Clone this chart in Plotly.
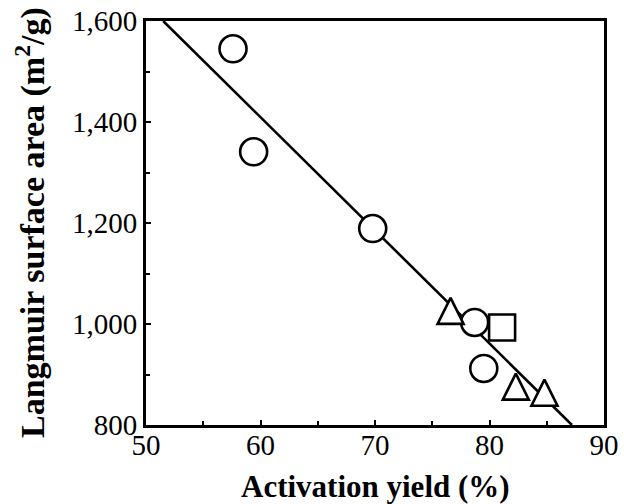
import plotly.graph_objects as go

# Activation yield (%) vs Langmuir surface area (m2/g), grouped by marker shape
circle_x = [57.6, 59.4, 69.8, 78.7, 79.5]
circle_y = [1545, 1341, 1189, 1003, 912]

triangle_x = [76.6, 82.3, 84.8]
triangle_y = [1026, 876, 864]

square_x = [81.1]
square_y = [993]

# Linear fit drawn across the frame
fit_x = [51.5, 87.2]
fit_y = [1600, 800]

x_ticks = [50, 60, 70, 80, 90]
y_ticks = [800, 1000, 1200, 1400, 1600]
y_tick_text = ["800", "1,000", "1,200", "1,400", "1,600"]

x_title = "Activation yield (%)"
y_title = "Langmuir surface area (m<sup>2</sup>/g)"

serif = "Liberation Serif, Times New Roman, serif"

fig = go.Figure()

fig.add_trace(go.Scatter(
    x=fit_x, y=fit_y, mode="lines",
    line=dict(color="black", width=2.6),
    showlegend=False, hoverinfo="skip",
))

marker_line = dict(color="black", width=2.6)

fig.add_trace(go.Scatter(
    x=circle_x, y=circle_y, mode="markers",
    marker=dict(symbol="circle", size=27, color="white", line=marker_line),
    showlegend=False,
))

fig.add_trace(go.Scatter(
    x=square_x, y=square_y, mode="markers",
    marker=dict(symbol="square", size=26, color="white", line=marker_line),
    showlegend=False,
))

# Upright triangle as tall as it is wide, centred on its point
# (a flipped arrow head pushed back by half its height)
fig.add_trace(go.Scatter(
    x=triangle_x, y=triangle_y, mode="markers",
    marker=dict(symbol="arrow-down", angle=180, size=26, standoff=13,
                color="white", line=marker_line),
    showlegend=False,
))

axis_common = dict(
    showgrid=False, zeroline=False, automargin=False,
    showline=True, linecolor="black", linewidth=2.8, mirror=True,
    ticks="inside", ticklen=5, tickwidth=2.2, tickcolor="black",
    tickfont=dict(family=serif, size=29, color="black"),
)

fig.update_xaxes(
    range=[50, 90], tickvals=x_ticks, ticklabelstandoff=-8,
    minor=dict(ticks="inside", ticklen=4, tickwidth=1.8, tickcolor="black", dtick=5),
    **axis_common,
)

fig.update_yaxes(
    range=[800, 1600], tickvals=y_ticks, ticktext=y_tick_text,
    minor=dict(ticks="inside", ticklen=4, tickwidth=1.8, tickcolor="black", dtick=100),
    **axis_common,
)

title_font = dict(family=serif, color="black", weight="bold")

fig.add_annotation(
    text=x_title, xref="paper", yref="paper", x=0.5, y=0,
    xanchor="center", yanchor="middle", yshift=-61, showarrow=False,
    font=dict(size=31, **title_font),
)
fig.add_annotation(
    text=y_title, xref="paper", yref="paper", x=0, y=0.5, textangle=-90,
    xanchor="center", yanchor="middle", xshift=-116, showarrow=False,
    font=dict(size=34, **title_font),
)

fig.update_layout(
    width=624, height=504,
    margin=dict(l=146, r=20, t=21, b=79),
    paper_bgcolor="white", plot_bgcolor="white",
)

fig.write_html("out.html")
